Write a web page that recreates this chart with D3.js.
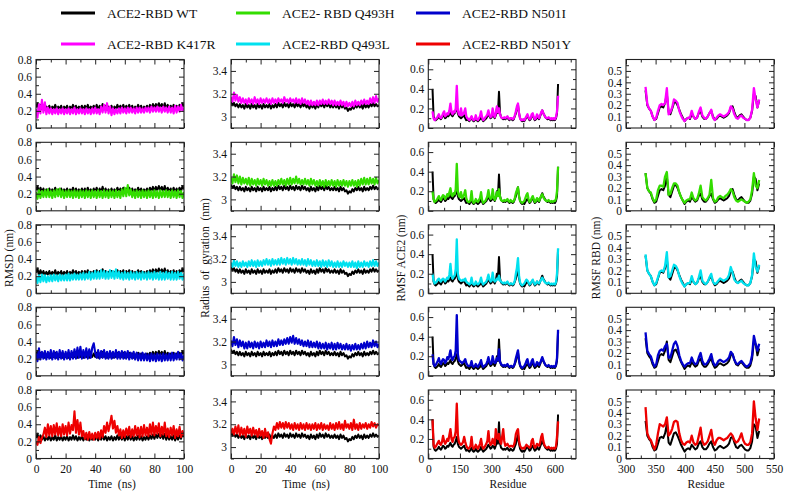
<!DOCTYPE html>
<html><head><meta charset="utf-8">
<script src="https://cdn.jsdelivr.net/npm/d3@7"></script>
<style>
body{margin:0;background:#fff}
svg{display:block}
text{font-family:"Liberation Serif","Times New Roman",serif;fill:#111}
</style>
</head><body><svg id="c" width="789" height="492"></svg>
<script>
// ---------- DATA ----------
const seriesNames = ["ACE2-RBD WT","ACE2-RBD K417R","ACE2- RBD Q493H","ACE2-RBD Q493L","ACE2-RBD N501I","ACE2-RBD N501Y"];
const seriesColors = ["#000000","#ff00ff","#33dd00","#00e1ef","#0000cc","#ee0000"];

const timeNs = d3.range(0, 101, 1);
const ace2Residues = d3.range(20, 616, 5);
const rbdResidues = d3.range(333, 526, 3);

// RMSD (nm)
const rmsdWT = [.24,.29,.21,.27,.22,.26,.21,.25,.22,.26,.21,.25,.22,.27,.21,.25,.22,.26,.21,.25,.22,.26,.21,.25,.22,.27,.22,.26,.21,.25,.22,.26,.21,.26,.22,.27,.21,.25,.22,.26,.22,.27,.21,.26,.22,.28,.22,.26,.21,.25,.22,.26,.21,.25,.22,.27,.22,.26,.22,.27,.21,.26,.22,.27,.22,.26,.21,.25,.22,.27,.22,.26,.21,.25,.22,.26,.22,.27,.23,.28,.23,.28,.24,.29,.24,.28,.23,.29,.22,.27,.22,.26,.22,.27,.21,.26,.22,.27,.23,.29,.25];
const rmsdK417R = [.22,.12,.28,.17,.33,.18,.30,.16,.24,.17,.23,.16,.22,.17,.23,.16,.22,.17,.23,.16,.22,.17,.23,.16,.22,.17,.24,.16,.22,.17,.23,.17,.22,.16,.23,.17,.22,.16,.23,.17,.24,.17,.22,.16,.25,.18,.27,.18,.29,.17,.25,.15,.23,.16,.22,.17,.23,.17,.24,.18,.23,.17,.24,.18,.24,.18,.23,.17,.24,.18,.24,.18,.23,.18,.24,.19,.24,.18,.25,.19,.24,.19,.25,.19,.24,.18,.25,.19,.24,.18,.25,.18,.24,.17,.26,.18,.25,.19,.27,.20,.24];
const rmsdQ493H = [.22,.14,.24,.15,.23,.16,.24,.16,.25,.16,.23,.15,.24,.16,.25,.17,.26,.16,.24,.15,.23,.16,.24,.16,.23,.15,.24,.16,.23,.15,.24,.16,.23,.15,.24,.16,.23,.15,.24,.16,.23,.15,.24,.16,.23,.15,.24,.16,.23,.15,.24,.16,.23,.15,.24,.16,.23,.15,.25,.17,.27,.17,.30,.18,.25,.16,.23,.15,.24,.16,.23,.15,.24,.16,.23,.15,.24,.16,.23,.15,.24,.16,.23,.15,.24,.16,.23,.16,.24,.16,.23,.15,.24,.16,.23,.15,.24,.16,.23,.15,.22];
const rmsdQ493L = [.20,.12,.21,.13,.22,.14,.21,.13,.20,.14,.21,.14,.22,.15,.21,.14,.22,.15,.21,.15,.22,.15,.23,.15,.22,.16,.23,.16,.22,.16,.23,.16,.24,.16,.23,.17,.25,.16,.24,.17,.26,.17,.25,.17,.27,.18,.26,.17,.25,.17,.27,.18,.26,.17,.28,.18,.25,.17,.24,.16,.25,.17,.24,.16,.25,.17,.24,.16,.25,.17,.24,.16,.25,.17,.24,.16,.25,.17,.24,.16,.25,.17,.24,.16,.25,.16,.24,.16,.25,.17,.24,.16,.25,.16,.24,.16,.25,.17,.24,.16,.23];
const rmsdN501I = [.26,.17,.32,.19,.28,.20,.29,.19,.28,.20,.30,.19,.29,.20,.28,.19,.30,.20,.29,.19,.28,.20,.30,.19,.29,.20,.31,.20,.33,.21,.34,.20,.30,.21,.32,.20,.31,.21,.33,.38,.27,.21,.30,.20,.29,.21,.30,.20,.28,.20,.29,.20,.28,.21,.30,.20,.28,.20,.29,.20,.28,.20,.29,.19,.27,.20,.28,.19,.27,.18,.26,.18,.27,.18,.26,.18,.25,.17,.26,.18,.25,.17,.26,.18,.25,.17,.26,.18,.25,.18,.26,.18,.27,.18,.26,.19,.28,.19,.26,.18,.24];
const rmsdN501Y = [.20,.16,.25,.18,.24,.28,.36,.25,.40,.27,.38,.26,.39,.28,.41,.27,.37,.26,.40,.28,.38,.27,.42,.29,.39,.33,.55,.30,.45,.28,.42,.26,.32,.23,.30,.22,.31,.23,.29,.22,.30,.24,.31,.23,.33,.25,.38,.30,.42,.32,.40,.50,.35,.44,.30,.38,.27,.34,.24,.33,.25,.35,.27,.37,.25,.34,.26,.38,.27,.36,.25,.37,.26,.39,.27,.36,.26,.40,.28,.42,.27,.38,.29,.41,.26,.37,.28,.42,.26,.35,.25,.36,.27,.38,.24,.34,.26,.37,.25,.32,.27];

// Radius of gyration (nm)
const rgWT = [3.13,3.10,3.12,3.09,3.11,3.08,3.11,3.08,3.10,3.07,3.11,3.08,3.10,3.07,3.11,3.08,3.10,3.07,3.11,3.08,3.10,3.07,3.11,3.08,3.10,3.08,3.11,3.07,3.10,3.08,3.11,3.08,3.12,3.09,3.11,3.08,3.12,3.09,3.11,3.08,3.12,3.09,3.11,3.08,3.12,3.09,3.11,3.08,3.12,3.09,3.11,3.08,3.10,3.07,3.11,3.08,3.10,3.07,3.11,3.08,3.12,3.09,3.11,3.08,3.12,3.09,3.11,3.08,3.10,3.08,3.11,3.08,3.10,3.07,3.11,3.08,3.10,3.07,3.08,3.05,3.07,3.06,3.09,3.07,3.10,3.08,3.11,3.08,3.10,3.07,3.11,3.08,3.10,3.08,3.11,3.09,3.12,3.09,3.11,3.09,3.10];
const rgK417R = [3.17,3.13,3.21,3.14,3.19,3.13,3.17,3.12,3.16,3.12,3.15,3.11,3.16,3.12,3.15,3.11,3.17,3.12,3.15,3.11,3.16,3.12,3.15,3.12,3.16,3.12,3.15,3.11,3.16,3.12,3.15,3.12,3.16,3.13,3.15,3.12,3.17,3.13,3.15,3.12,3.16,3.13,3.15,3.12,3.16,3.12,3.15,3.11,3.16,3.12,3.15,3.11,3.14,3.10,3.14,3.10,3.13,3.10,3.14,3.10,3.14,3.11,3.15,3.11,3.14,3.11,3.15,3.11,3.14,3.10,3.14,3.10,3.13,3.10,3.14,3.10,3.13,3.09,3.13,3.09,3.12,3.09,3.13,3.09,3.14,3.10,3.13,3.10,3.14,3.11,3.15,3.11,3.14,3.11,3.16,3.12,3.17,3.12,3.18,3.13,3.16];
const rgQ493H = [3.19,3.14,3.22,3.15,3.21,3.14,3.20,3.13,3.19,3.14,3.18,3.13,3.19,3.12,3.18,3.13,3.17,3.12,3.18,3.13,3.17,3.12,3.18,3.13,3.17,3.12,3.16,3.12,3.17,3.12,3.16,3.12,3.17,3.13,3.18,3.13,3.17,3.12,3.18,3.13,3.19,3.13,3.18,3.14,3.20,3.14,3.18,3.13,3.17,3.13,3.18,3.13,3.17,3.12,3.18,3.13,3.17,3.12,3.16,3.12,3.17,3.12,3.16,3.11,3.17,3.12,3.16,3.12,3.17,3.12,3.16,3.11,3.17,3.12,3.16,3.12,3.17,3.12,3.16,3.11,3.16,3.12,3.17,3.12,3.16,3.11,3.17,3.12,3.18,3.13,3.19,3.13,3.18,3.13,3.19,3.14,3.18,3.13,3.19,3.14,3.17];
const rgQ493L = [3.17,3.13,3.19,3.14,3.18,3.13,3.17,3.13,3.18,3.14,3.17,3.13,3.18,3.14,3.19,3.14,3.18,3.13,3.19,3.14,3.18,3.14,3.19,3.15,3.20,3.15,3.19,3.14,3.20,3.15,3.19,3.15,3.20,3.15,3.21,3.16,3.20,3.15,3.21,3.16,3.20,3.15,3.21,3.16,3.20,3.15,3.19,3.15,3.20,3.15,3.19,3.14,3.20,3.15,3.19,3.14,3.18,3.14,3.19,3.14,3.18,3.13,3.19,3.14,3.18,3.13,3.19,3.14,3.18,3.13,3.17,3.13,3.18,3.13,3.17,3.13,3.18,3.14,3.17,3.13,3.17,3.13,3.18,3.13,3.17,3.12,3.18,3.13,3.17,3.13,3.18,3.14,3.17,3.13,3.18,3.14,3.19,3.14,3.18,3.14,3.17];
const rgN501I = [3.21,3.16,3.24,3.17,3.22,3.15,3.21,3.16,3.20,3.14,3.19,3.14,3.20,3.15,3.19,3.14,3.20,3.15,3.19,3.14,3.20,3.15,3.19,3.15,3.21,3.16,3.20,3.15,3.21,3.16,3.20,3.16,3.22,3.17,3.21,3.17,3.22,3.18,3.23,3.18,3.24,3.19,3.25,3.18,3.23,3.18,3.22,3.17,3.21,3.16,3.20,3.16,3.21,3.15,3.20,3.15,3.19,3.15,3.20,3.14,3.19,3.14,3.18,3.14,3.19,3.13,3.18,3.14,3.19,3.13,3.18,3.13,3.19,3.14,3.18,3.13,3.17,3.13,3.18,3.13,3.17,3.12,3.17,3.13,3.18,3.13,3.17,3.13,3.18,3.14,3.19,3.14,3.20,3.15,3.19,3.15,3.21,3.16,3.20,3.15,3.18];
const rgN501Y = [3.12,3.16,3.11,3.18,3.12,3.19,3.10,3.17,3.11,3.16,3.09,3.18,3.12,3.16,3.10,3.17,3.11,3.15,3.09,3.16,3.10,3.14,3.08,3.16,3.09,3.13,3.07,3.03,3.12,3.18,3.15,3.21,3.16,3.22,3.17,3.21,3.16,3.22,3.17,3.21,3.16,3.20,3.15,3.21,3.16,3.20,3.15,3.21,3.16,3.20,3.15,3.21,3.16,3.20,3.15,3.20,3.16,3.21,3.15,3.20,3.16,3.21,3.15,3.20,3.16,3.19,3.15,3.21,3.16,3.20,3.15,3.21,3.16,3.22,3.16,3.20,3.15,3.23,3.17,3.20,3.16,3.21,3.15,3.24,3.16,3.20,3.15,3.21,3.16,3.20,3.17,3.21,3.16,3.20,3.17,3.22,3.18,3.21,3.17,3.20,3.19];

// RMSF ACE2 (nm), residues 20..615 step 5
const rmsfAceWT = [.40,.12,.09,.08,.09,.10,.12,.10,.09,.11,.13,.12,.10,.11,.13,.12,.14,.16,.13,.12,.14,.15,.18,.22,.15,.12,.11,.10,.11,.12,.13,.10,.08,.09,.08,.07,.09,.11,.08,.07,.08,.10,.08,.07,.08,.09,.12,.09,.07,.08,.09,.10,.12,.14,.12,.10,.11,.13,.12,.10,.13,.20,.15,.37,.15,.11,.10,.09,.10,.09,.10,.11,.09,.08,.10,.09,.08,.09,.12,.15,.20,.24,.15,.10,.08,.07,.08,.07,.09,.11,.12,.10,.08,.09,.12,.13,.10,.08,.09,.12,.10,.09,.12,.15,.18,.15,.13,.11,.10,.09,.10,.09,.08,.09,.08,.09,.08,.10,.15,.45];
const rmsfAceK417R = [.17,.10,.08,.09,.10,.12,.14,.11,.10,.12,.15,.17,.12,.13,.15,.14,.18,.25,.16,.14,.17,.16,.20,.43,.18,.14,.13,.20,.13,.14,.16,.20,.12,.10,.09,.08,.10,.12,.09,.08,.09,.13,.09,.08,.10,.12,.17,.11,.08,.09,.11,.12,.14,.18,.13,.11,.12,.20,.14,.11,.15,.22,.16,.20,.14,.11,.10,.10,.11,.10,.11,.12,.10,.09,.10,.10,.09,.10,.13,.17,.22,.25,.15,.10,.08,.08,.09,.08,.10,.12,.14,.11,.09,.10,.14,.15,.11,.09,.10,.14,.12,.10,.13,.16,.18,.15,.13,.11,.10,.10,.11,.10,.09,.10,.09,.10,.09,.11,.17,.33];
const rmsfAceQ493H = [.20,.12,.09,.10,.11,.13,.15,.12,.11,.14,.16,.15,.12,.14,.17,.15,.19,.23,.16,.15,.18,.17,.22,.48,.20,.15,.14,.19,.13,.14,.17,.21,.13,.10,.09,.09,.11,.20,.10,.08,.09,.12,.10,.09,.11,.13,.19,.11,.08,.09,.10,.12,.15,.21,.14,.12,.13,.22,.14,.11,.14,.19,.15,.22,.14,.11,.10,.10,.11,.10,.11,.12,.10,.09,.11,.10,.09,.10,.13,.18,.21,.24,.15,.10,.09,.08,.09,.10,.13,.16,.18,.12,.09,.10,.13,.15,.12,.09,.10,.13,.12,.10,.13,.15,.17,.14,.12,.11,.10,.10,.11,.10,.09,.10,.09,.10,.10,.12,.20,.45];
const rmsfAceQ493L = [.20,.13,.10,.11,.12,.14,.15,.13,.12,.14,.15,.14,.12,.14,.16,.15,.19,.30,.18,.15,.17,.18,.25,.55,.20,.15,.14,.13,.13,.14,.13,.15,.12,.11,.10,.09,.10,.16,.10,.09,.09,.12,.10,.09,.10,.12,.16,.11,.09,.10,.11,.12,.15,.19,.14,.12,.13,.21,.14,.12,.13,.15,.14,.18,.13,.12,.11,.10,.11,.10,.11,.12,.10,.09,.10,.10,.09,.10,.13,.20,.26,.36,.18,.11,.09,.08,.09,.10,.12,.14,.13,.11,.09,.10,.12,.14,.11,.09,.10,.12,.11,.10,.12,.14,.16,.14,.12,.11,.10,.10,.11,.10,.09,.10,.09,.10,.09,.11,.20,.46];
const rmsfAceN501I = [.22,.12,.10,.11,.13,.15,.18,.14,.12,.15,.17,.16,.13,.15,.19,.17,.21,.26,.18,.16,.19,.20,.26,.62,.22,.16,.15,.14,.13,.14,.15,.17,.13,.11,.10,.10,.11,.15,.10,.09,.10,.12,.10,.09,.11,.13,.16,.11,.09,.10,.11,.12,.15,.19,.14,.12,.13,.20,.15,.13,.14,.18,.16,.27,.14,.12,.11,.10,.11,.10,.11,.12,.10,.09,.10,.10,.09,.10,.13,.18,.22,.26,.16,.11,.09,.08,.09,.10,.12,.15,.17,.12,.10,.11,.15,.17,.12,.10,.11,.14,.13,.11,.13,.16,.19,.16,.13,.11,.10,.10,.11,.10,.09,.10,.09,.10,.09,.11,.18,.47];
const rmsfAceN501Y = [.40,.14,.11,.12,.14,.16,.18,.15,.14,.17,.23,.18,.15,.17,.20,.18,.24,.30,.20,.17,.21,.22,.28,.56,.24,.17,.15,.14,.15,.17,.22,.17,.13,.11,.10,.11,.13,.22,.12,.10,.11,.14,.12,.10,.12,.15,.20,.13,.10,.11,.13,.15,.18,.28,.17,.14,.15,.20,.16,.14,.30,.22,.20,.25,.17,.15,.22,.30,.18,.13,.14,.15,.13,.12,.13,.13,.12,.13,.17,.25,.28,.30,.18,.13,.11,.10,.11,.10,.12,.14,.13,.12,.11,.12,.18,.20,.14,.11,.12,.15,.14,.13,.16,.22,.25,.18,.14,.12,.11,.11,.12,.11,.10,.11,.10,.11,.10,.12,.22,.38];

// RMSF RBD (nm), residues 333..525 step 3
const rmsfRbdWT = [.33,.20,.17,.15,.10,.07,.08,.13,.18,.19,.18,.22,.30,.14,.12,.17,.22,.23,.20,.16,.12,.09,.06,.08,.09,.08,.12,.10,.08,.09,.13,.15,.10,.08,.08,.10,.13,.15,.10,.07,.08,.10,.11,.10,.09,.10,.11,.13,.18,.19,.14,.10,.09,.11,.12,.10,.08,.07,.07,.09,.15,.30,.28,.18,.24];
const rmsfRbdK417R = [.36,.21,.17,.15,.10,.07,.09,.15,.20,.21,.20,.22,.35,.12,.14,.18,.25,.24,.22,.15,.11,.08,.06,.08,.09,.09,.15,.10,.08,.09,.14,.18,.11,.09,.08,.10,.13,.16,.09,.07,.09,.11,.12,.11,.10,.11,.12,.14,.19,.17,.12,.09,.08,.10,.11,.09,.08,.07,.07,.09,.16,.35,.25,.18,.25];
const rmsfRbdQ493H = [.33,.20,.17,.16,.11,.08,.10,.18,.22,.22,.21,.30,.34,.14,.15,.20,.24,.24,.22,.16,.12,.09,.07,.09,.10,.10,.16,.11,.09,.10,.15,.22,.12,.10,.09,.11,.14,.27,.11,.08,.09,.12,.13,.12,.11,.13,.14,.16,.19,.17,.12,.09,.08,.09,.10,.09,.08,.07,.08,.10,.18,.33,.22,.20,.27];
const rmsfRbdQ493L = [.34,.20,.17,.15,.10,.07,.09,.14,.19,.20,.19,.24,.36,.14,.15,.20,.25,.24,.21,.15,.11,.08,.06,.08,.09,.09,.15,.10,.08,.09,.14,.20,.11,.09,.08,.10,.14,.17,.10,.08,.09,.11,.13,.12,.11,.12,.13,.16,.23,.18,.12,.10,.09,.10,.11,.09,.08,.07,.07,.09,.16,.35,.23,.19,.25];
const rmsfRbdN501I = [.38,.22,.19,.17,.12,.08,.10,.18,.22,.23,.22,.26,.28,.16,.16,.22,.28,.30,.26,.18,.13,.10,.08,.10,.11,.11,.16,.12,.10,.11,.16,.20,.13,.10,.10,.12,.15,.19,.12,.09,.10,.13,.14,.13,.12,.13,.14,.16,.21,.19,.14,.11,.10,.12,.13,.11,.09,.08,.09,.11,.18,.35,.28,.22,.28];
const rmsfRbdN501Y = [.45,.22,.18,.16,.12,.08,.12,.22,.30,.29,.28,.30,.36,.20,.22,.26,.32,.33,.32,.22,.16,.13,.12,.14,.15,.14,.20,.14,.12,.13,.20,.27,.15,.12,.13,.15,.20,.25,.15,.12,.16,.18,.18,.17,.16,.17,.18,.20,.22,.20,.16,.14,.15,.18,.22,.16,.13,.12,.12,.14,.22,.50,.35,.25,.35];

// tick values
const timeTicks = [0,20,40,60,80,100];
const timeMinor = [10,30,50,70,90];
const rmsdTicks = [0,0.2,0.4,0.6,0.8];
const rmsdMinor = [0.1,0.3,0.5,0.7];
const rgTicks = [3,3.2,3.4];
const rgMinor = [2.9,3.1,3.3];
const aceTicks = [0,150,300,450,600];
const aceMinor = [75,225,375,525,675];
const aceYTicks = [0,0.2,0.4,0.6];
const aceYMinor = [0.1,0.3,0.5];
const rbdTicks = [300,350,400,450,500,550];
const rbdMinor = [325,375,425,475,525];
const rbdYTicks = [0,0.1,0.2,0.3,0.4,0.5];
const rbdYMinor = [0.05,0.15,0.25,0.35,0.45,0.55];

// ---------- LAYOUT ----------
const svg = d3.select("#c");
const rowTops = [59.5, 142.3, 224.8, 307.3, 390];
const panelH = 68.5;

const columns = [
  {x0:36, x1:184, xDom:[0,100], yDom:[0,0.8], xs:timeNs,
   series:[rmsdWT,rmsdK417R,rmsdQ493H,rmsdQ493L,rmsdN501I,rmsdN501Y],
   xT:timeTicks, xM:timeMinor, yT:rmsdTicks, yM:rmsdMinor, lw:[2,2.1],
   yLabel:"RMSD (nm)", yLabelX:9, xLabel:"Time  (ns)", xLabelX:112},
  {x0:231, x1:379, xDom:[0,100], yDom:[2.9,3.5], xs:timeNs,
   series:[rgWT,rgK417R,rgQ493H,rgQ493L,rgN501I,rgN501Y],
   xT:timeTicks, xM:timeMinor, yT:rgTicks, yM:rgMinor, lw:[2,2.1],
   yLabel:"Radius  of  gyration  (nm)", yLabelX:205, xLabel:"Time  (ns)", xLabelX:306},
  {x0:428.3, x1:576, xDom:[0,700], yDom:[0,0.7], xs:ace2Residues,
   series:[rmsfAceWT,rmsfAceK417R,rmsfAceQ493H,rmsfAceQ493L,rmsfAceN501I,rmsfAceN501Y],
   xT:aceTicks, xM:aceMinor, yT:aceYTicks, yM:aceYMinor, lw:[2,2.3],
   yLabel:"RMSF ACE2 (nm)", yLabelX:401, xLabel:"Residue", xLabelX:508},
  {x0:626, x1:774, xDom:[300,550], yDom:[0,0.6], xs:rbdResidues,
   series:[rmsfRbdWT,rmsfRbdK417R,rmsfRbdQ493H,rmsfRbdQ493L,rmsfRbdN501I,rmsfRbdN501Y],
   xT:rbdTicks, xM:rbdMinor, yT:rbdYTicks, yM:rbdYMinor, lw:[2,2.3],
   yLabel:"RMSF RBD (nm)", yLabelX:596, xLabel:"Residue", xLabelX:706}
];

const defs = svg.append("defs");

columns.forEach((col, ci) => {
  rowTops.forEach((top, ri) => {
    const x = d3.scaleLinear().domain(col.xDom).range([col.x0, col.x1]);
    const y = d3.scaleLinear().domain(col.yDom).range([top + panelH, top]);
    const id = `clip-${ci}-${ri}`;
    defs.append("clipPath").attr("id", id).append("rect")
      .attr("x", col.x0).attr("y", top).attr("width", col.x1 - col.x0).attr("height", panelH);
    const g = svg.append("g");
    const lines = g.append("g").attr("clip-path", `url(#${id})`);
    const line = d3.line().x((d, i) => x(col.xs[i])).y(d => y(d));
    lines.append("path").datum(col.series[0]).attr("d", line)
      .attr("fill", "none").attr("stroke", seriesColors[0]).attr("stroke-width", col.lw[0]).attr("stroke-linejoin","round");
    lines.append("path").datum(col.series[ri + 1]).attr("d", line)
      .attr("fill", "none").attr("stroke", seriesColors[ri + 1]).attr("stroke-width", col.lw[1]).attr("stroke-linejoin","round");

    // axes (ticks inward)
    const axes = g.append("g").attr("class", "axes");
    const addAxis = (axis, tx, ty) => {
      const a = axes.append("g").attr("transform", `translate(${tx},${ty})`).call(axis);
      a.select(".domain").remove();
      a.selectAll("line").attr("stroke", "#222").attr("stroke-width", 1);
      a.selectAll("text").attr("font-family", '"Liberation Serif","Times New Roman",serif')
        .attr("font-size", 11.5).attr("fill", "#111");
      return a;
    };
    addAxis(d3.axisLeft(y).tickValues(col.yT).tickSize(-5).tickPadding(4).tickFormat(d => String(d)), col.x0, 0);
    addAxis(d3.axisLeft(y).tickValues(col.yM).tickSize(-3).tickFormat(""), col.x0, 0);
    addAxis(d3.axisRight(y).tickValues(col.yT).tickSize(-5).tickFormat(""), col.x1, 0);
    addAxis(d3.axisRight(y).tickValues(col.yM).tickSize(-3).tickFormat(""), col.x1, 0);
    addAxis(d3.axisTop(x).tickValues(col.xT).tickSize(-5).tickFormat(""), 0, top);
    addAxis(d3.axisTop(x).tickValues(col.xM).tickSize(-3).tickFormat(""), 0, top);
    addAxis(d3.axisBottom(x).tickValues(col.xT).tickSize(-5).tickPadding(6.5)
      .tickFormat(ri === rowTops.length - 1 ? (d => String(d)) : ""), 0, top + panelH);
    addAxis(d3.axisBottom(x).tickValues(col.xM).tickSize(-3).tickFormat(""), 0, top + panelH);

    g.append("rect").attr("x", col.x0).attr("y", top).attr("width", col.x1 - col.x0).attr("height", panelH)
      .attr("fill", "none").attr("stroke", "#222").attr("stroke-width", 1.1);
  });

  // axis titles
  svg.append("text").attr("transform", `translate(${col.yLabelX},258) rotate(-90)`)
    .attr("text-anchor", "middle").attr("dominant-baseline", "central")
    .attr("font-size", 11.5).style("white-space", "pre").text(col.yLabel);
  svg.append("text").attr("x", col.xLabelX).attr("y", 488)
    .attr("text-anchor", "middle").attr("font-size", 11.5).style("white-space", "pre").text(col.xLabel);
});

// ---------- LEGEND ----------
const legendPos = [[61,13],[61,44],[236,13],[236,44],[416,13],[416,44]];
seriesNames.forEach((name, i) => {
  const [lx, ly] = legendPos[i];
  svg.append("line").attr("x1", lx).attr("x2", lx + 34).attr("y1", ly).attr("y2", ly)
    .attr("stroke", seriesColors[i]).attr("stroke-width", 3);
  svg.append("text").attr("x", lx + 46).attr("y", ly).attr("dominant-baseline", "central")
    .attr("font-size", 13.5).style("white-space", "pre").text(name);
});
</script>
</body></html>
